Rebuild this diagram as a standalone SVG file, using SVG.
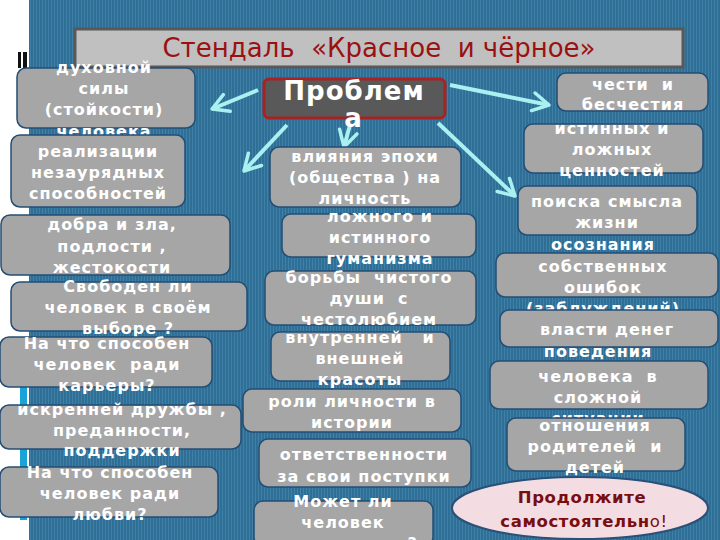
<svg xmlns="http://www.w3.org/2000/svg" width="720" height="540" viewBox="0 0 720 540">
<defs>
<pattern id="stripes" x="0" y="0" width="3" height="10" patternUnits="userSpaceOnUse">
<rect width="3" height="10" fill="#2f6e95"/>
<rect width="1" height="10" fill="#3f80a8"/>
</pattern>
<marker id="ah" viewBox="0 0 22 22" refX="19" refY="11" markerWidth="22" markerHeight="22" orient="auto" markerUnits="userSpaceOnUse">
<path d="M3,2 L19,11 L3,20" fill="none" stroke="#a9f1f1" stroke-width="3.5" stroke-linecap="round" stroke-linejoin="round"/>
</marker>
<style>
.box{fill:#a6a6a6;stroke:#244e74;stroke-width:1.5}
.t{font-family:"DejaVu Sans","Verdana",sans-serif;font-weight:bold;font-size:16px;fill:#ffffff;text-anchor:middle;letter-spacing:1px}
.c{stroke:#a9f1f1;stroke-width:4;fill:none;marker-end:url(#ah)}
</style>
</defs>
<rect x="0" y="0" width="720" height="540" fill="#ffffff"/>
<rect x="29" y="0" width="691" height="540" fill="url(#stripes)"/>
<rect x="18" y="52" width="3" height="16" fill="#111"/>
<rect x="23" y="52" width="4" height="16" fill="#111"/>
<rect x="20" y="347" width="7" height="173" fill="#1aa3d6"/>

<g id="title">
<rect x="75" y="29" width="608" height="38" fill="#c0c0c0" stroke="#595959" stroke-width="3"/>
<text x="379" y="57" font-family="DejaVu Sans, sans-serif" font-size="26" fill="#9b1111" text-anchor="middle" xml:space="preserve">Стендаль  «Красное  и чёрное»</text>
</g>

<g id="connectors">
<line class="c" x1="258" y1="90" x2="212" y2="109"/>
<line class="c" x1="450" y1="85" x2="549" y2="105"/>
<line class="c" x1="287" y1="125" x2="244" y2="171"/>
<line class="c" x1="350" y1="125" x2="344" y2="147"/>
<line class="c" x1="438" y1="123" x2="515" y2="196"/>
</g>

<g id="problem">
<rect x="264" y="79" width="181" height="39" rx="5" fill="#595959" stroke="#a82222" stroke-width="3"/>
<text x="354" y="100" font-family="DejaVu Sans, sans-serif" font-weight="bold" font-size="26" fill="#fff" text-anchor="middle" letter-spacing="1">Проблем</text>
<text x="353" y="127" font-family="DejaVu Sans, sans-serif" font-weight="bold" font-size="26" fill="#fff" text-anchor="middle">а</text>
</g>

<g id="n1"><rect class="box" x="17" y="68" width="178" height="60" rx="9"/>
<text class="t" x="104"><tspan x="104" y="73">духовной</tspan><tspan x="104" y="94">силы</tspan><tspan x="104" y="115">(стойкости)</tspan><tspan x="104" y="137">человека</tspan></text></g>

<g id="n2"><rect class="box" x="11" y="135" width="174" height="72" rx="9"/>
<text class="t"><tspan x="98" y="157">реализации</tspan><tspan x="98" y="178">незаурядных</tspan><tspan x="98" y="199">способностей</tspan></text></g>

<g id="n3"><rect class="box" x="1" y="215" width="229" height="60" rx="9"/>
<text class="t"><tspan x="112" y="230">добра и зла,</tspan><tspan x="112" y="252">подлости ,</tspan><tspan x="112" y="273">жестокости</tspan></text></g>

<g id="n4"><rect class="box" x="11" y="282" width="236" height="49" rx="9"/>
<text class="t"><tspan x="128" y="292">Свободен ли</tspan><tspan x="128" y="313">человек в своём</tspan><tspan x="128" y="334">выборе ?</tspan></text></g>

<g id="n5"><rect class="box" x="0" y="337" width="212" height="50" rx="9"/>
<text class="t" xml:space="preserve"><tspan x="107" y="349">На что способен</tspan><tspan x="107" y="370">человек  ради</tspan><tspan x="107" y="391">карьеры?</tspan></text></g>

<g id="n6"><rect class="box" x="0" y="405" width="241" height="44" rx="9"/>
<text class="t"><tspan x="122" y="415">искренней дружбы ,</tspan><tspan x="122" y="436">преданности,</tspan><tspan x="122" y="456">поддержки</tspan></text></g>

<g id="n7"><rect class="box" x="0" y="467" width="218" height="50" rx="9"/>
<text class="t"><tspan x="110" y="478">На что способен</tspan><tspan x="110" y="499">человек ради</tspan><tspan x="110" y="520">любви?</tspan></text></g>

<g id="n8"><rect class="box" x="270" y="147" width="191" height="60" rx="9"/>
<text class="t"><tspan x="365" y="162">влияния эпохи</tspan><tspan x="365" y="183">(общества ) на</tspan><tspan x="365" y="204">личность</tspan></text></g>

<g id="n9"><rect class="box" x="282" y="214" width="194" height="43" rx="9"/>
<text class="t"><tspan x="380" y="222">ложного и</tspan><tspan x="380" y="243">истинного</tspan><tspan x="380" y="264">гуманизма</tspan></text></g>

<g id="n10"><rect class="box" x="265" y="271" width="211" height="54" rx="9"/>
<text class="t" xml:space="preserve"><tspan x="369" y="283">борьбы  чистого</tspan><tspan x="369" y="304">души  с</tspan><tspan x="369" y="325">честолюбием</tspan></text></g>

<g id="n11"><rect class="box" x="271" y="332" width="179" height="49" rx="9"/>
<text class="t" xml:space="preserve"><tspan x="360" y="343">внутренней   и</tspan><tspan x="360" y="364">внешней</tspan><tspan x="360" y="385">красоты</tspan></text></g>

<g id="n12"><rect class="box" x="243" y="389" width="218" height="43" rx="9"/>
<text class="t"><tspan x="352" y="407">роли личности в</tspan><tspan x="352" y="428">истории</tspan></text></g>

<g id="n13"><rect class="box" x="259" y="439" width="212" height="48" rx="9"/>
<text class="t"><tspan x="364" y="460">ответственности</tspan><tspan x="364" y="482">за свои поступки</tspan></text></g>

<g id="n14"><rect class="box" x="254" y="501" width="179" height="45" rx="9"/>
<text class="t"><tspan x="343" y="507">Может ли</tspan><tspan x="343" y="528">человек</tspan><tspan x="343" y="549">изменить мир?</tspan></text></g>

<g id="n15"><rect class="box" x="557" y="73" width="151" height="38" rx="9"/>
<text class="t" xml:space="preserve"><tspan x="633" y="90">чести  и</tspan><tspan x="633" y="110">бесчестия</tspan></text></g>

<g id="n16"><rect class="box" x="524" y="124" width="179" height="49" rx="9"/>
<text class="t"><tspan x="612" y="134">истинных и</tspan><tspan x="612" y="155">ложных</tspan><tspan x="612" y="176">ценностей</tspan></text></g>

<g id="n17"><rect class="box" x="518" y="186" width="179" height="49" rx="9"/>
<text class="t"><tspan x="607" y="207">поиска смысла</tspan><tspan x="607" y="228">жизни</tspan></text></g>

<g id="n18"><rect class="box" x="496" y="253" width="222" height="44" rx="9"/>
<text class="t"><tspan x="603" y="250">осознания</tspan><tspan x="603" y="272">собственных</tspan><tspan x="603" y="293">ошибок</tspan><tspan x="603" y="314">(заблуждений)</tspan></text></g>

<g id="n19"><rect class="box" x="500" y="310" width="218" height="37" rx="9"/>
<text class="t"><tspan x="607" y="335">власти денег</tspan></text></g>

<g id="n20"><rect class="box" x="490" y="361" width="218" height="48" rx="9"/>
<text class="t" xml:space="preserve"><tspan x="598" y="357">поведения</tspan><tspan x="598" y="382">человека  в</tspan><tspan x="598" y="403">сложной</tspan><tspan x="598" y="424">ситуации</tspan></text></g>

<g id="n21"><rect class="box" x="507" y="418" width="178" height="53" rx="9"/>
<text class="t" xml:space="preserve"><tspan x="595" y="431">отношения</tspan><tspan x="595" y="452">родителей  и</tspan><tspan x="595" y="473">детей</tspan></text></g>

<g id="continue">
<ellipse cx="580" cy="508" rx="128" ry="31" fill="#f4dce3" stroke="#2a5078" stroke-width="2"/>
<text font-family="DejaVu Sans, sans-serif" font-size="16.5" fill="#7a0d0d" text-anchor="middle" letter-spacing="0.6"><tspan x="582" y="503" font-weight="bold">Продолжите</tspan><tspan x="584" y="527"><tspan font-weight="bold">самостоятельн</tspan>о!</tspan></text>
</g>
</svg>
